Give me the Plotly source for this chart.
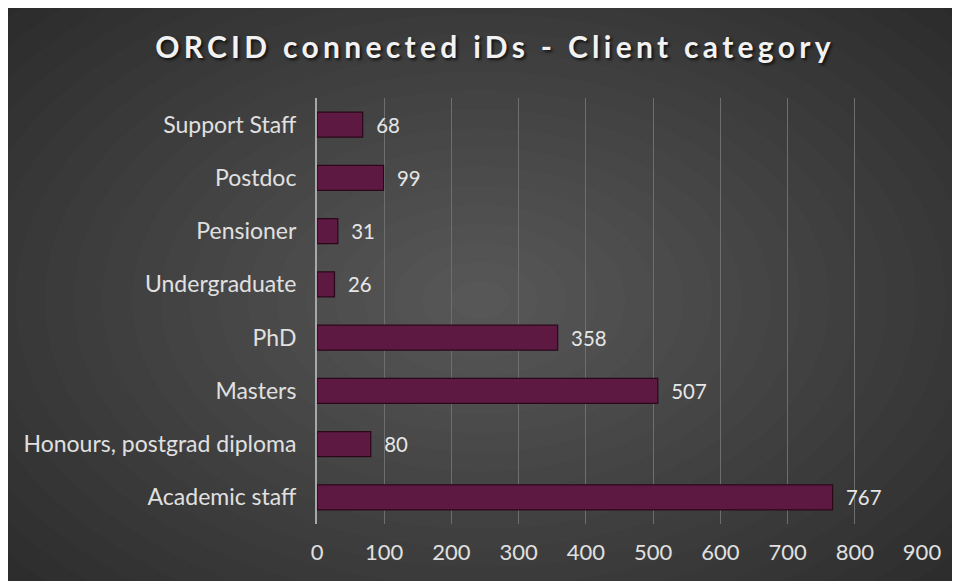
import plotly.graph_objects as go

categories = ["Academic staff", "Honours, postgrad diploma", "Masters", "PhD",
              "Undergraduate", "Pensioner", "Postdoc", "Support Staff"]
values = [767, 80, 507, 358, 26, 31, 99, 68]
x_ticks = [0, 100, 200, 300, 400, 500, 600, 700, 800, 900]

W, H = 960, 581
L, R, T, B = 308.5, 46, 90, 65
PW, PH = W - L - R, H - T - B

def px(x):
    return (x - L) / PW

def py(y):
    return (H - B - y) / PH

shapes = []
cx, cy = 472, 292
n = 22
for i in range(n):
    f = 1 - i / n
    rx, ry = 640 * f, 420 * f
    shapes.append(dict(type="circle", xref="paper", yref="paper", layer="below",
                       x0=px(cx - rx), x1=px(cx + rx), y0=py(cy + ry), y1=py(cy - ry),
                       fillcolor="rgba(255,255,255,0.013)", line=dict(width=0)))

fig = go.Figure()
fig.add_trace(go.Bar(
    y=categories, x=values, orientation="h",
    marker=dict(color="#5e1943", line=dict(color="#2a0818", width=1.2)),
    text=["\u00a0\u00a0" + str(v) for v in values], textposition="outside",
    textfont=dict(color="#e6e6e6", size=22, family="Lato"),
    cliponaxis=False, width=0.47,
))

fig.update_layout(
    width=W, height=H,
    margin=dict(l=L, r=R, t=T, b=B),
    paper_bgcolor="#2b2b2b", plot_bgcolor="rgba(0,0,0,0)",
    shapes=shapes,
    showlegend=False,
    title=dict(text="<b>ORCID connected iDs - Client category</b>",
               x=487 / W, xanchor="center", y=1 - 39 / H, yanchor="middle",
               font=dict(family="Lato", size=30, color="#f2f2f2",
                         shadow="2px 2px 3px rgba(0,0,0,0.7)")),
    xaxis=dict(range=[0, 900], tickvals=x_ticks, showgrid=True,
               gridcolor="#6e6e6e", gridwidth=1, zeroline=False,
               showline=False, ticks="",
               tickfont=dict(color="#e0e0e0", size=22, family="Lato"),
               ticklabelstandoff=13),
    yaxis=dict(showgrid=False, showline=True, linecolor="#a8a8a8", linewidth=2,
               ticks="", tickfont=dict(color="#e0e0e0", size=23, family="Lato"),
               ticklabelstandoff=14, zeroline=False),
    bargap=0.53,
)

post = """
var gd = document.getElementById('{plot_id}');
function sp(){ var t = gd.querySelector('.gtitle'); if (t) { t.style.letterSpacing = '4.3px'; } }
sp(); gd.on('plotly_afterplot', sp);
"""
fig.write_html("out.html", post_script=post)
